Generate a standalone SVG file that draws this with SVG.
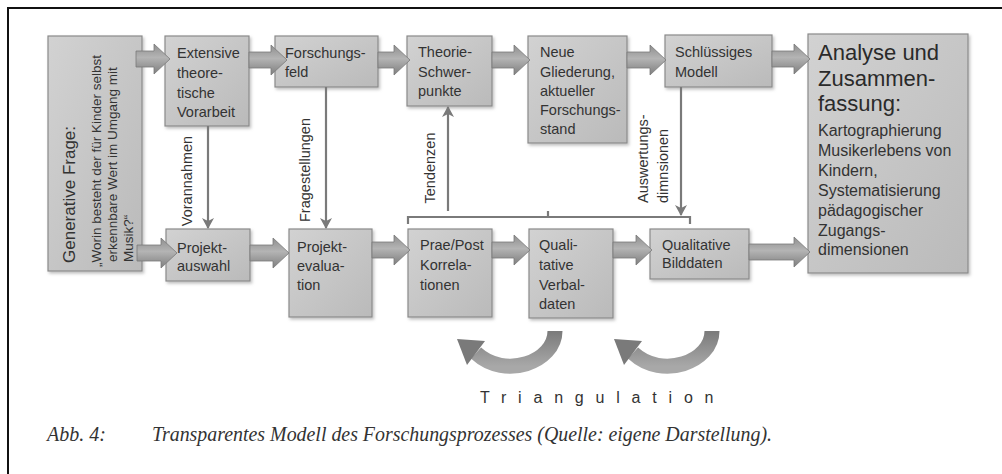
<svg xmlns="http://www.w3.org/2000/svg" width="1002" height="474" viewBox="0 0 1002 474">
<defs>
<linearGradient id="boxg" x1="0" y1="0" x2="1" y2="1">
<stop offset="0" stop-color="#d2d2d2"/>
<stop offset="1" stop-color="#bababa"/>
</linearGradient>
<linearGradient id="arrg" x1="0" y1="0" x2="0" y2="1">
<stop offset="0" stop-color="#8e8e8e"/>
<stop offset="0.45" stop-color="#b4b4b4"/>
<stop offset="1" stop-color="#7e7e7e"/>
</linearGradient>
<linearGradient id="curg" x1="0" y1="0" x2="0" y2="1">
<stop offset="0" stop-color="#7a7a7a"/>
<stop offset="1" stop-color="#a8a8a8"/>
</linearGradient>
<filter id="sh" x="-10%" y="-10%" width="130%" height="130%">
<feDropShadow dx="1.5" dy="2" stdDeviation="1.5" flood-color="#000" flood-opacity="0.25"/>
</filter>
<marker id="ah" viewBox="0 0 12 12" markerWidth="12" markerHeight="12" refX="10" refY="6" orient="auto" markerUnits="userSpaceOnUse">
<path d="M0,0 L11,6 L0,12 L3,6 Z" fill="#7a7a7a"/>
</marker>
</defs>
<style>
.box{fill:url(#boxg);stroke:#8a8a8a;stroke-width:1.2;filter:url(#sh)}
.t{font-family:"Liberation Sans",Arial,sans-serif;font-size:14.5px;fill:#333}
.lbl{font-family:"Liberation Sans",Arial,sans-serif;font-size:14.5px;fill:#333}
.big{font-family:"Liberation Sans",Arial,sans-serif;font-size:22px;fill:#2a2a2a}
.mid{font-family:"Liberation Sans",Arial,sans-serif;font-size:16px;fill:#333}
.blk{fill:url(#arrg);stroke:#7a7a7a;stroke-width:0.8}
.thin{fill:none;stroke:#7a7a7a;stroke-width:2.2}
.cap{font-family:"Liberation Serif","Times New Roman",serif;font-style:italic;font-size:20px;fill:#333}
</style>
<rect x="0" y="0" width="1002" height="474" fill="#ffffff"/>
<path d="M8,474 L8,8 L1002,8" fill="none" stroke="#111" stroke-width="2"/>

<g id="gen">
<rect class="box" x="48" y="36" width="94" height="235"/>
<text class="t" font-size="17" transform="translate(75,263) rotate(-90)" style="font-size:17px">Generative Frage:</text>
<text class="t" transform="translate(101,267) rotate(-90)" style="font-size:13.5px">„Worin besteht der für Kinder selbst</text>
<text class="t" transform="translate(117,262) rotate(-90)" style="font-size:13.5px">erkennbare Wert im Umgang mit</text>
<text class="t" transform="translate(133,262) rotate(-90)" style="font-size:13.5px">Musik?“</text>
</g>
<g id="extensive">
<rect class="box" x="165" y="36" width="84" height="90"/>
<text class="t" x="177" y="58">Extensive</text>
<text class="t" x="177" y="78">theore-</text>
<text class="t" x="177" y="98">tische</text>
<text class="t" x="177" y="117">Vorarbeit</text>
</g>
<g id="forschungsfeld">
<rect class="box" x="275" y="36" width="103" height="51"/>
<text class="t" x="285" y="58">Forschungs-</text>
<text class="t" x="285" y="77">feld</text>
</g>
<g id="theorie">
<rect class="box" x="407" y="36" width="85" height="70"/>
<text class="t" x="418" y="57">Theorie-</text>
<text class="t" x="418" y="77">Schwer-</text>
<text class="t" x="418" y="96">punkte</text>
</g>
<g id="neue">
<rect class="box" x="528" y="36" width="99" height="107"/>
<text class="t" x="540" y="57">Neue</text>
<text class="t" x="540" y="77">Gliederung,</text>
<text class="t" x="540" y="96">aktueller</text>
<text class="t" x="540" y="115">Forschungs-</text>
<text class="t" x="540" y="134">stand</text>
</g>
<g id="schluessig">
<rect class="box" x="665" y="35" width="107" height="52"/>
<text class="t" x="675" y="57">Schlüssiges</text>
<text class="t" x="675" y="77">Modell</text>
</g>
<g id="analyse">
<rect class="box" x="808" y="34" width="160" height="239"/>
<text class="big" x="818" y="60">Analyse und</text>
<text class="big" x="818" y="86">Zusammen-</text>
<text class="big" x="818" y="111">fassung:</text>
<text class="mid" x="818" y="136">Kartographierung</text>
<text class="mid" x="818" y="156">Musikerlebens von</text>
<text class="mid" x="818" y="176">Kindern,</text>
<text class="mid" x="818" y="196">Systematisierung</text>
<text class="mid" x="818" y="216">pädagogischer</text>
<text class="mid" x="818" y="236">Zugangs-</text>
<text class="mid" x="818" y="255">dimensionen</text>
</g>
<g id="projektauswahl">
<rect class="box" x="166" y="229" width="84" height="52"/>
<text class="t" x="177" y="253">Projekt-</text>
<text class="t" x="177" y="271">auswahl</text>
</g>
<g id="projektevaluation">
<rect class="box" x="289" y="229" width="83" height="88"/>
<text class="t" x="297" y="252">Projekt-</text>
<text class="t" x="297" y="271">evalua-</text>
<text class="t" x="297" y="290">tion</text>
</g>
<g id="praepost">
<rect class="box" x="408" y="229" width="84" height="88"/>
<text class="t" x="420" y="250">Prae/Post</text>
<text class="t" x="420" y="270">Korrela-</text>
<text class="t" x="420" y="290">tionen</text>
</g>
<g id="verbaldaten">
<rect class="box" x="529" y="229" width="84" height="89"/>
<text class="t" x="539" y="250">Quali-</text>
<text class="t" x="539" y="270">tative</text>
<text class="t" x="539" y="290">Verbal-</text>
<text class="t" x="539" y="309">daten</text>
</g>
<g id="bilddaten">
<rect class="box" x="650" y="229" width="99" height="50"/>
<text class="t" x="662" y="250">Qualitative</text>
<text class="t" x="662" y="268">Bilddaten</text>
</g>

<g id="connectors">
<path class="blk" d="M136,51 L154,51 L154,44 L170,59 L154,74 L154,67 L136,67 Z"/>
<path class="blk" d="M249,52 L271,52 L271,45 L287,60 L271,75 L271,68 L249,68 Z"/>
<path class="blk" d="M378,52 L394,52 L394,45 L410,60 L394,75 L394,68 L378,68 Z"/>
<path class="blk" d="M492,52 L514,52 L514,45 L530,60 L514,75 L514,68 L492,68 Z"/>
<path class="blk" d="M627,52 L650,52 L650,45 L666,60 L650,75 L650,68 L627,68 Z"/>
<path class="blk" d="M772,51 L794,51 L794,44 L810,59 L794,74 L794,67 L772,67 Z"/>
<path class="blk" d="M137,245 L161,245 L161,238 L177,253 L161,268 L161,261 L137,261 Z"/>
<path class="blk" d="M250,245 L273,245 L273,238 L289,253 L273,268 L273,261 L250,261 Z"/>
<path class="blk" d="M372,242 L394,242 L394,235 L410,250 L394,265 L394,258 L372,258 Z"/>
<path class="blk" d="M492,242 L514,242 L514,235 L530,250 L514,265 L514,258 L492,258 Z"/>
<path class="blk" d="M613,242 L636,242 L636,235 L652,250 L636,265 L636,258 L613,258 Z"/>
<path class="blk" d="M749,244 L794,244 L794,237 L810,252 L794,267 L794,260 L749,260 Z"/>

<path class="thin" d="M208,126 L208,228" marker-end="url(#ah)"/>
<path class="thin" d="M326,87 L326,228" marker-end="url(#ah)"/>
<path class="thin" d="M448,211 L448,107" marker-end="url(#ah)"/>
<path class="thin" d="M681,87 L681,215" marker-end="url(#ah)"/>
<path class="thin" d="M408,224 L408,217 L690,217 L690,224 M548,217 L548,211"/>

<text class="lbl" text-anchor="middle" transform="translate(192,181) rotate(-90)">Vorannahmen</text>
<text class="lbl" text-anchor="middle" transform="translate(310,170) rotate(-90)">Fragestellungen</text>
<text class="lbl" text-anchor="middle" transform="translate(435,168) rotate(-90)">Tendenzen</text>
<text class="lbl" transform="translate(648,203) rotate(-90)">Auswertungs-</text>
<text class="lbl" transform="translate(668,203) rotate(-90)">dimnsionen</text>

<path d="M555,331 C555,362 505,380 476,353" fill="none" stroke="url(#curg)" stroke-width="15"/>
<path d="M485,341 L457,339 L467,365 Z" fill="#7a7a7a"/>
<path d="M712,331 C712,362 662,380 633,353" fill="none" stroke="url(#curg)" stroke-width="15"/>
<path d="M642,341 L614,339 L624,365 Z" fill="#7a7a7a"/>
</g>

<text x="480" y="403" style="font-family:'Liberation Sans',Arial,sans-serif;font-size:16px;fill:#333;letter-spacing:11.8px">Triangulation</text>
<text class="cap" x="47" y="441">Abb. 4:</text>
<text class="cap" x="152" y="441" textLength="620" lengthAdjust="spacingAndGlyphs">Transparentes Modell des Forschungsprozesses (Quelle: eigene Darstellung).</text>
</svg>
